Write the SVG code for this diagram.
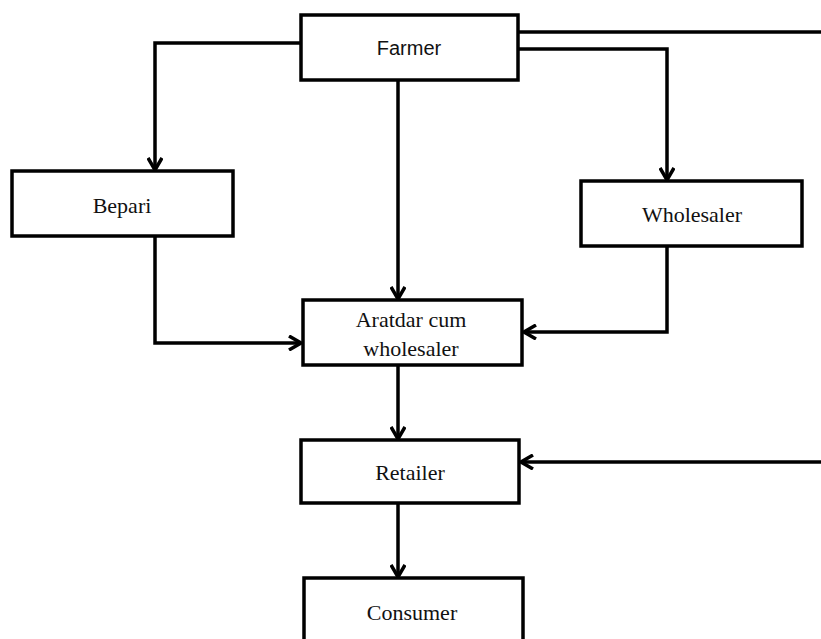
<svg xmlns="http://www.w3.org/2000/svg" width="821" height="639" viewBox="0 0 821 639">
<style>
.box{fill:#fff;stroke:#000;stroke-width:3.5}
.c{fill:none;stroke:#000;stroke-width:3.5}
.ser{font-family:"Liberation Serif","Times New Roman",serif;font-size:22px;fill:#111;text-anchor:middle}
.san{font-family:"Liberation Sans",Arial,sans-serif;font-size:20px;fill:#111;text-anchor:middle}
</style>
<defs>
<marker id="ah" viewBox="0 0 14 16" refX="13" refY="8" markerWidth="14" markerHeight="16" markerUnits="userSpaceOnUse" orient="auto">
<path d="M1,1 L13,8 L1,15" fill="none" stroke="#000" stroke-width="3.5"/>
</marker>
</defs>
<rect width="821" height="639" fill="#fff"/>
<g id="connectors">
<path class="c" d="M301,43 H155 V170" marker-end="url(#ah)"/>
<path class="c" d="M518,32 H821"/>
<path class="c" d="M518,49 H667 V180" marker-end="url(#ah)"/>
<path class="c" d="M398,80 V299" marker-end="url(#ah)"/>
<path class="c" d="M155,236 V343 H301" marker-end="url(#ah)"/>
<path class="c" d="M667,246 V332 H524" marker-end="url(#ah)"/>
<path class="c" d="M398,365 V439" marker-end="url(#ah)"/>
<path class="c" d="M821,462 H521" marker-end="url(#ah)"/>
<path class="c" d="M398,503 V577" marker-end="url(#ah)"/>
</g>
<g id="farmer"><rect class="box" x="301" y="15" width="217" height="65"/><text class="san" x="409" y="55">Farmer</text></g>
<g id="bepari"><rect class="box" x="12" y="171" width="221" height="65"/><text class="ser" x="122" y="213">Bepari</text></g>
<g id="wholesaler"><rect class="box" x="581" y="181" width="221" height="65"/><text class="ser" x="692" y="222">Wholesaler</text></g>
<g id="aratdar"><rect class="box" x="303" y="300" width="219" height="65"/><text class="ser" x="411" y="327">Aratdar cum</text><text class="ser" x="411" y="356">wholesaler</text></g>
<g id="retailer"><rect class="box" x="301" y="440" width="218" height="63"/><text class="ser" x="410" y="480">Retailer</text></g>
<g id="consumer"><rect class="box" x="304" y="578" width="219" height="70"/><text class="ser" x="412" y="620">Consumer</text></g>
</svg>
